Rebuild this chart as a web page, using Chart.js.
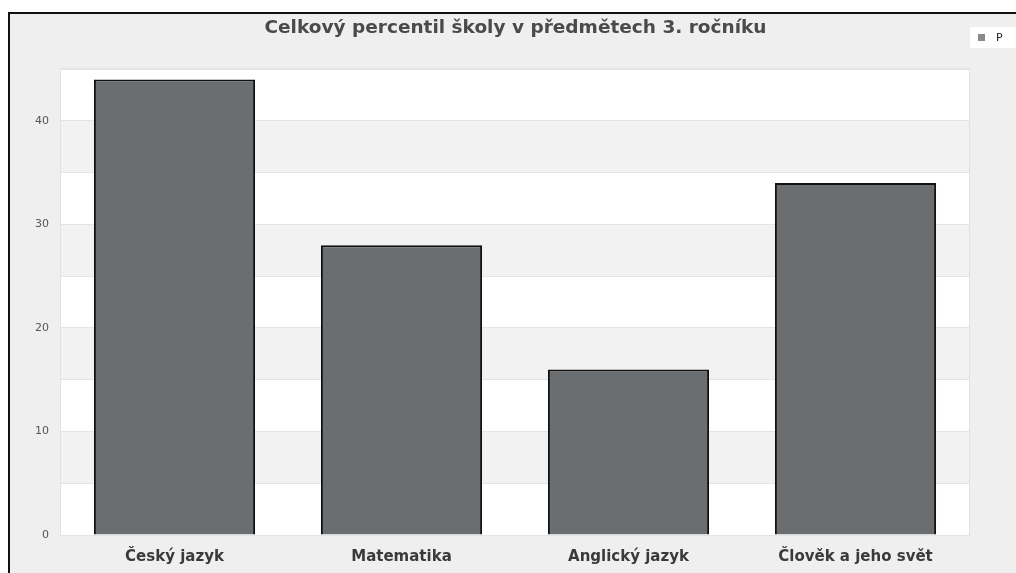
<!DOCTYPE html>
<html>
<head>
<meta charset="utf-8">
<script src="https://cdn.jsdelivr.net/npm/chart.js@4.4.1/dist/chart.umd.min.js"></script>
<style>
  html, body { margin: 0; padding: 0; background: #fff; }
  #frame {
    position: absolute; left: 8px; top: 12px;
    width: 1006px; height: 559px;
    border-left: 2px solid #111; border-top: 2px solid #111;
    background: #efefef;
  }
  #chart { display: block; }
</style>
</head>
<body>
<div id="frame"><canvas id="chart" width="1006" height="559"></canvas></div>
<script>
const subjects = ['Český jazyk', 'Matematika', 'Anglický jazyk', 'Člověk a jeho svět'];
const percentiles = [44, 28, 16, 34];
const seriesName = 'P';
const chartTitle = 'Celkový percentil školy v předmětech 3. ročníku';

// white plot area with light gray bands between every other gridline
const bandsPlugin = {
    id: 'bands',
    beforeDraw(chart) {
        const { ctx, chartArea: a, scales: { y } } = chart;
        ctx.save();
        ctx.fillStyle = '#ffffff';
        ctx.fillRect(a.left, a.top, a.right - a.left, a.bottom - a.top);
        ctx.fillStyle = '#f2f2f2';
        for (let v = 5; v < y.max; v += 10) {
            const top = y.getPixelForValue(Math.min(v + 5, y.max));
            const bottom = y.getPixelForValue(v);
            ctx.fillRect(a.left, top, a.right - a.left, bottom - top);
        }
        ctx.strokeStyle = '#e2e2e2';
        ctx.lineWidth = 1;
        ctx.strokeRect(a.left - 0.5, a.top - 0.5, a.right - a.left + 1, a.bottom - a.top + 1);
        ctx.restore();
    }
};

// small legend box in the top right corner
const legendBoxPlugin = {
    id: 'legendBox',
    afterDraw(chart) {
        const ctx = chart.ctx;
        ctx.save();
        ctx.fillStyle = '#ffffff';
        ctx.fillRect(960, 13, 46, 21);
        ctx.fillStyle = '#8a8a8a';
        ctx.fillRect(968, 20, 7, 7);
        ctx.fillStyle = '#222';
        ctx.font = '11px "DejaVu Sans"';
        ctx.textBaseline = 'middle';
        ctx.fillText(chart.data.datasets[0].label, 986, 24);
        ctx.restore();
    }
};

new Chart(document.getElementById('chart'), {
    type: 'bar',
    data: {
        labels: subjects,
        datasets: [{
            label: seriesName,
            data: percentiles,
            backgroundColor: '#6b6e71',
            borderColor: '#111111',
            borderWidth: 2,
            borderSkipped: 'bottom',
            categoryPercentage: 0.71,
            barPercentage: 1.0
        }]
    },
    options: {
        responsive: false,
        animation: false,
        layout: { padding: { left: 5, right: 0, top: 0, bottom: 0 } },
        plugins: {
            legend: { display: false },
            tooltip: { enabled: false },
            title: {
                display: true,
                text: chartTitle,
                color: '#4a4a4a',
                font: { family: 'DejaVu Sans', size: 18.5, weight: 'bold' },
                padding: { top: 3, bottom: 30 }
            }
        },
        scales: {
            x: {
                grid: { display: false },
                border: { display: false },
                ticks: {
                    color: '#3a3a3a',
                    padding: 5,
                    font: { family: 'DejaVu Sans', size: 15, weight: 'bold' }
                },
                afterFit(scale) { scale.height = 38; }
            },
            y: {
                min: 0,
                max: 45,
                grid: { color: '#e4e4e4', drawTicks: false },
                border: { display: false },
                ticks: {
                    stepSize: 5,
                    color: '#555',
                    padding: 12,
                    font: { family: 'DejaVu Sans', size: 11 },
                    callback: (v) => (v % 10 === 0 ? v : '')
                },
                afterFit(scale) { scale.width = 46; }
            },
            // empty right-hand axis that only reserves room for the legend box
            spacer: {
                type: 'linear',
                position: 'right',
                grid: { display: false },
                border: { display: false },
                ticks: { display: false },
                afterFit(scale) { scale.width = 47; }
            }
        }
    },
    plugins: [bandsPlugin, legendBoxPlugin]
});
</script>
</body>
</html>
